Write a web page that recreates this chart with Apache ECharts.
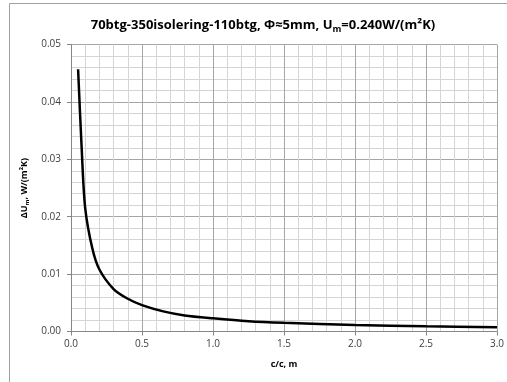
<!DOCTYPE html>
<html>
<head>
<meta charset="utf-8">
<script src="https://cdn.jsdelivr.net/npm/echarts@6/dist/echarts.min.js"></script>
<style>
  html, body { margin: 0; padding: 0; background: #fff; }
  #chart { width: 507px; height: 382px; }
</style>
</head>
<body>
<div id="chart"></div>
<script>
// c/c afstand (m) en ΔU_m (W/(m²K))
const cc = [0.05, 0.075, 0.1, 0.15, 0.2, 0.3, 0.4, 0.5, 0.65, 0.8, 1.0, 1.25, 1.5, 2.0, 2.5, 3.0];
const deltaU = [0.0457, 0.032, 0.0215, 0.0145, 0.0108, 0.0074, 0.0057, 0.0046, 0.0035, 0.0028, 0.0023, 0.0018, 0.00152, 0.00114, 0.00091, 0.00075];

const font = '"Open Sans", "Noto Sans", sans-serif';

const myChart = echarts.init(document.getElementById('chart'));
myChart.setOption({
    animation: false,
    backgroundColor: '#fff',
    graphic: [{
        type: 'rect',
        shape: { x: 9.5, y: 3.5, width: 600, height: 400 },
        style: { fill: 'none', stroke: '#a0a0a0', lineWidth: 1 }
    }],
    title: {
        text: '{t|70btg-350isolering-110btg, Φ≈5mm, U}{s|m}{t|=0.240W/(m²K)}',
        left: 258,
        top: 12,
        textAlign: 'center',
        textStyle: {
            rich: {
                t: { fontFamily: font, fontSize: 13, fontWeight: 'bold', color: '#000' },
                s: { fontFamily: font, fontSize: 9, fontWeight: 'bold', color: '#000', padding: [8, 0, 0, 0] }
            }
        }
    },
    grid: { left: 71, right: 9.5, top: 44.5, bottom: 50.5, containLabel: false },
    xAxis: {
        type: 'value',
        min: 0, max: 3, interval: 0.5,
        name: 'c/c, m',
        nameLocation: 'middle',
        nameGap: 28,
        nameTextStyle: { fontFamily: font, fontSize: 9, fontWeight: 'bold', color: '#000' },
        axisLine: { show: true, lineStyle: { color: '#868686' } },
        axisTick: { show: true, length: 4, lineStyle: { color: '#868686' } },
        axisLabel: { fontFamily: font, fontSize: 10, color: '#404040', margin: 8, formatter: v => v.toFixed(1) },
        splitLine: { show: true, lineStyle: { color: '#a6a6a6' } },
        minorTick: { show: false, splitNumber: 5 },
        minorSplitLine: { show: true, lineStyle: { color: '#d4d4d4' } }
    },
    yAxis: {
        type: 'value',
        min: 0, max: 0.05, interval: 0.01,
        name: '{t|ΔU}{s|m}{t|, W/(m²K)}',
        nameLocation: 'middle',
        nameGap: 37,
        nameTextStyle: {
            padding: [0, 0, 0, 0],
            rich: {
                t: { fontFamily: font, fontSize: 9, fontWeight: 'bold', color: '#000' },
                s: { fontFamily: font, fontSize: 6, fontWeight: 'bold', color: '#000', padding: [5, 0, 0, 0] }
            }
        },
        axisLine: { show: true, lineStyle: { color: '#868686' } },
        axisTick: { show: true, length: 4, lineStyle: { color: '#868686' } },
        axisLabel: { fontFamily: font, fontSize: 10, color: '#404040', margin: 10, formatter: v => v.toFixed(2) },
        splitLine: { show: true, lineStyle: { color: '#a6a6a6' } },
        minorTick: { show: false, splitNumber: 5 },
        minorSplitLine: { show: true, lineStyle: { color: '#d4d4d4' } }
    },
    series: [{
        type: 'line',
        data: cc.map((c, i) => [c, deltaU[i]]),
        smooth: 0.3,
        showSymbol: false,
        lineStyle: { color: '#000', width: 2.5 }
    }]
});
</script>
</body>
</html>
